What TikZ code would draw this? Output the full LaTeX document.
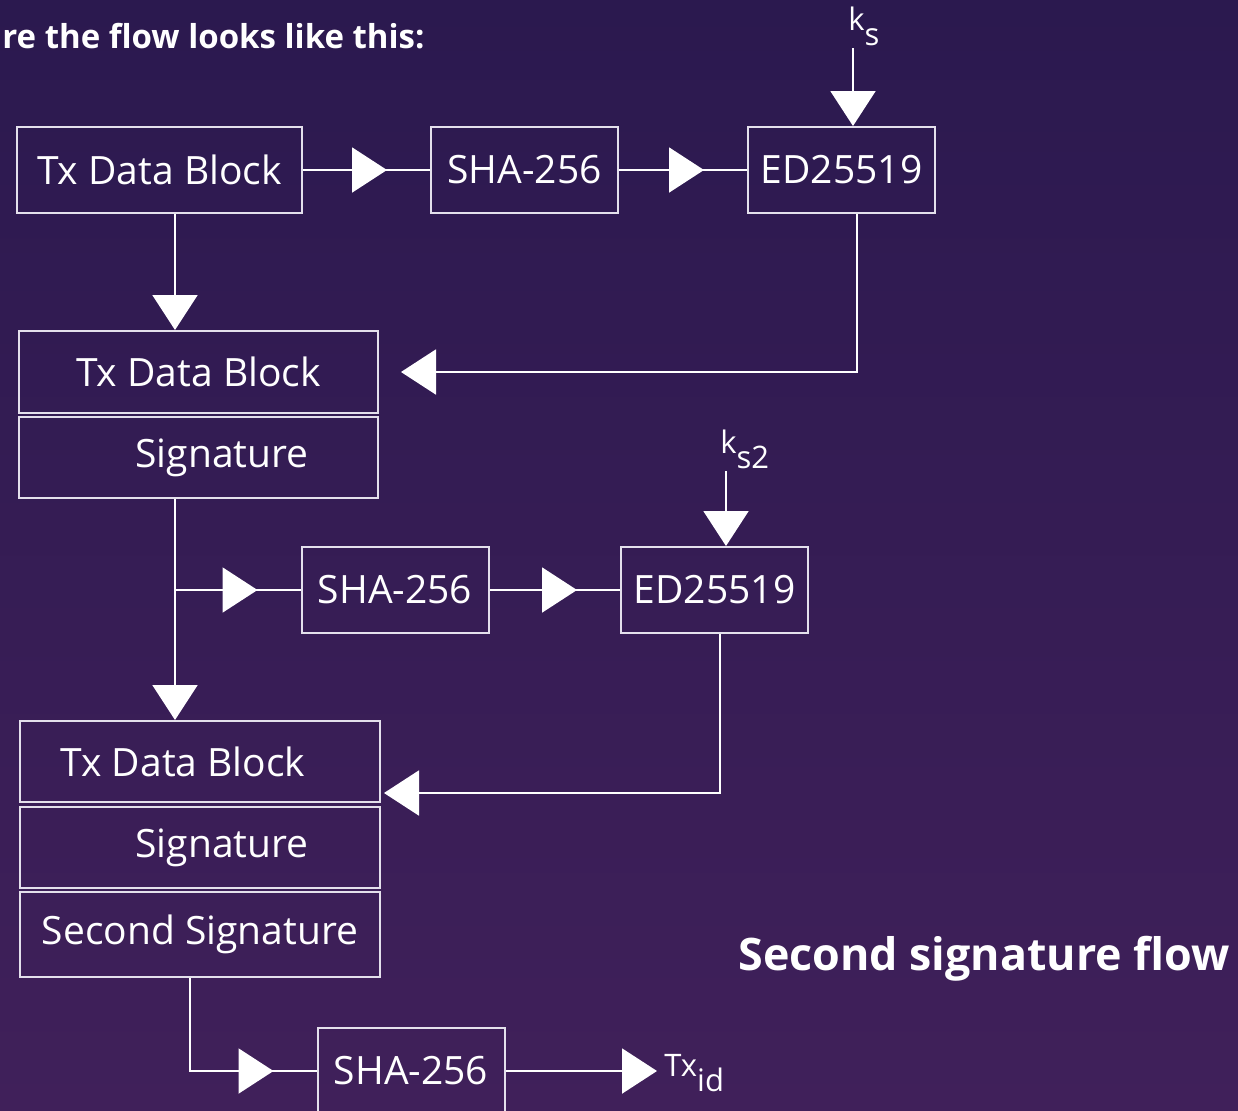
\documentclass[tikz,border=0pt]{standalone}
\usepackage{fontspec}
\setmainfont{Open Sans}
\usetikzlibrary{arrows.meta,decorations.markings}

\definecolor{bgtop}{RGB}{43,25,79}
\definecolor{bgbot}{RGB}{64,32,90}
\definecolor{frame}{RGB}{228,224,236}

\newcommand{\lowsub}[1]{\raisebox{-0.5em}{#1}}

\tikzset{
	blk/.style={draw=frame, line width=1pt, minimum width=93.5pt, minimum height=43pt, inner sep=0pt, text=white, font=\fontsize{19.5}{24}\selectfont},
	lbl/.style={text=white, inner sep=0pt, font=\fontsize{19.5}{24}\selectfont},
	key/.style={text=white, inner sep=1pt, font=\fontsize{15.5}{18}\selectfont},
	head/.style={text=white, inner sep=0pt, font=\fontsize{16.5}{20}\selectfont\bfseries},
	wire/.style={draw=white, color=white, line width=1pt},
	tip/.style={-{Triangle[length=17.5pt,width=22.5pt]}},
	midtip/.style={postaction={decorate}, decoration={markings, mark=at position -21.5pt with {\arrow{Triangle[length=17.5pt,width=22.5pt]}}}}
}

\begin{document}
\begin{tikzpicture}[x=0.5pt, y=-0.5pt]
	\useasboundingbox (0,0) rectangle (1238,1110);
	\clip (0,0) rectangle (1238,1110);
	\fill[top color=bgtop, bottom color=bgbot] (0,0) rectangle (1238,1110);
	
	% first signature
	\node[blk, minimum width=142.5pt] (txa) at (159.5,170) {Tx Data Block};
	\node[blk] (shaa) at (524.5,170) {SHA-256};
	\node[blk] (eda) at (841.5,170) {ED25519};
	\node[key, anchor=base west] (ks) at (846,30) {k\lowsub{s}};
	
	\node[blk, minimum width=179.5pt, minimum height=41pt] (txb) at (198.5,372) {Tx Data Block};
	\node[blk, minimum width=179.5pt, minimum height=40.5pt] (sigb) at (198.5,457.5) {};
	\node[lbl] at ([xshift=11.75pt]sigb.center) {Signature};
	
	% second signature
	\node[blk] (shab) at (395,590) {SHA-256};
	\node[blk] (edb) at (714.5,590) {ED25519};
	\node[key, anchor=base west] (kstwo) at (718,453) {k\lowsub{s2}};
	
	\node[blk, minimum width=180pt, minimum height=40.5pt] (txc) at (200,761.5) {};
	\node[lbl] at ([xshift=-8.5pt]txc.center) {Tx Data Block};
	\node[blk, minimum width=180pt, minimum height=40.5pt] (sigc) at (200,847.5) {};
	\node[lbl] at ([xshift=11pt]sigc.center) {Signature};
	\node[blk, minimum width=180pt, minimum height=42.5pt] (secc) at (200,934.5) {Second Signature};
	
	% transaction id
	\node[blk] (shac) at (411,1071) {SHA-256};
	\node[key, anchor=base west] (txid) at (662,1076) {Tx\lowsub{id}};
	
	\coordinate (spine) at (175,0);
	\coordinate (spinec) at (190,0);
	\coordinate (ksin) at ([xshift=5.75pt]eda.north);
	\coordinate (kstwoin) at ([xshift=5.75pt]edb.north);
	\coordinate (edaout) at ([xshift=7.75pt]eda.south);
	\coordinate (edbout) at ([xshift=2.75pt]edb.south);
	\coordinate (txcin) at ([yshift=-15.75pt]txc.east);
	
	\draw[wire, midtip] (txa.east) -- (shaa.west);
	\draw[wire, midtip] (shaa.east) -- (eda.west);
	\draw[wire, tip] (ksin |- ks.south) -- (ksin);
	\draw[wire, tip, shorten >=11pt] (edaout) |- (txb.east);
	\draw[wire, tip] (txa.south -| spine) -- (txb.north -| spine);
	
	\draw[wire, tip] (sigb.south -| spine) -- (txc.north -| spine);
	\draw[wire, midtip] (spine |- shab.west) -- (shab.west);
	\draw[wire, midtip] (shab.east) -- (edb.west);
	\draw[wire, tip] (kstwoin |- kstwo.south) -- (kstwoin);
	\draw[wire, tip, shorten >=1.5pt] (edbout) |- (txcin);
	
	\draw[wire, midtip] (secc.south -| spinec) |- (shac.west);
	\draw[wire, tip, shorten >=2.5pt] (shac.east) -- (shac.east -| txid.west);
	
	\node[head, anchor=base west] (intro) at (2,48) {re the flow looks like this:};
	\node[head, anchor=base west, font=\fontsize{22.4}{27}\selectfont\bfseries] (caption) at (738,970) {Second signature flow};
\end{tikzpicture}
\end{document}
